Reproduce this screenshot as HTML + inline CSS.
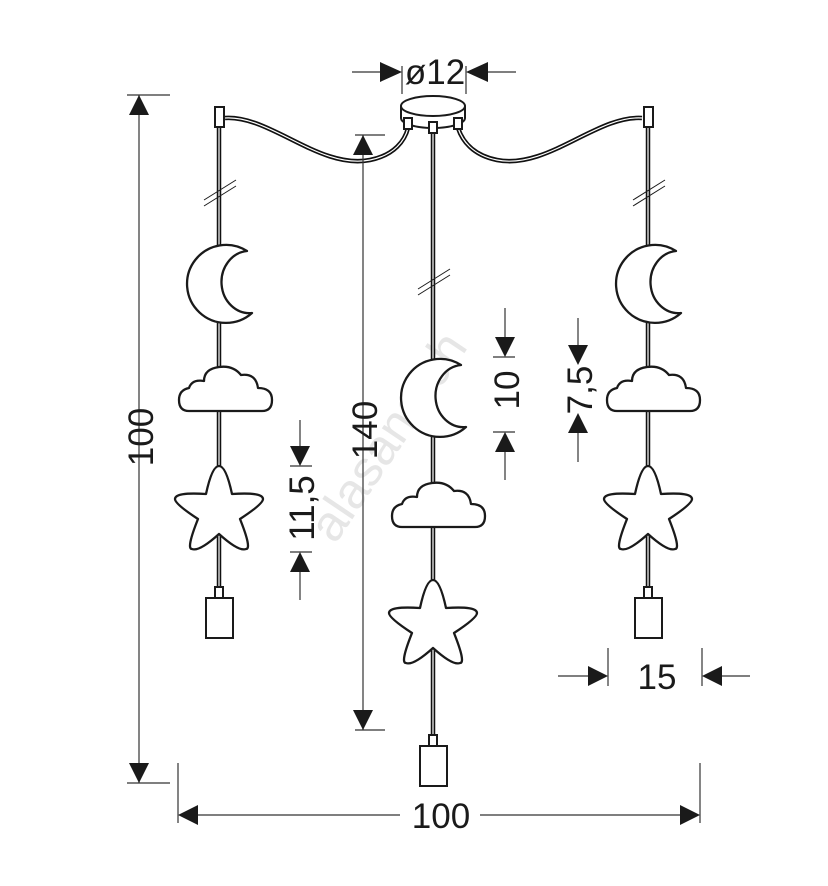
<!DOCTYPE html>
<html><head><style>body{margin:0;background:#fff}svg{display:block}text{font-family:"Liberation Sans",sans-serif;fill:#1a1a1a}</style></head>
<body>
<svg width="828" height="886" viewBox="0 0 828 886" xmlns="http://www.w3.org/2000/svg">
<defs>
<path id="moon" d="M26 -30 A39 39 0 1 0 31 32 A27 30 0 0 1 26 -30 Z"/>
<path id="cloud" d="M10 46 H83 Q93 46 93 35 Q93 23 79 23 Q77 8 62 10 Q54 0 40 2 Q25 4 25 16 Q13 14 10 23 Q0 25 0 35 Q0 46 10 46 Z"/>
<path id="star" d="M0 -46 Q7 -46 13 -18 Q44 -20 44 -13 Q44 -8 21 7 Q33 37 27 37 Q20 40 0 22 Q-20 40 -27 37 Q-33 37 -21 7 Q-44 -8 -44 -13 Q-44 -20 -13 -18 Q-7 -46 0 -46 Z"/>
<g id="lamp"><rect x="-4" y="0" width="8" height="11" fill="#fff" stroke="#1a1a1a" stroke-width="2"/><rect x="-13" y="11" width="27" height="40" fill="#fff" stroke="#1a1a1a" stroke-width="2"/></g>
</defs>
<text x="0" y="0" transform="translate(335,545) rotate(-56)" font-size="50" style="fill:#e6e6e6">alasans.ch</text>
<g fill="none" stroke="#111" stroke-width="4.5">
<path d="M225 118 C270 115 320 170 370 160 C395 155 405 140 408 128"/>
<path d="M642 118 C597 115 547 170 497 160 C472 155 462 140 458 128"/>
<line x1="219" y1="128" x2="219" y2="590"/>
<line x1="433" y1="130" x2="433" y2="738"/>
<line x1="648" y1="128" x2="648" y2="590"/>
</g>
<g fill="none" stroke="#fff" stroke-width="1.2">
<path d="M225 118 C270 115 320 170 370 160 C395 155 405 140 408 128"/>
<path d="M642 118 C597 115 547 170 497 160 C472 155 462 140 458 128"/>
<line x1="219" y1="128" x2="219" y2="590"/>
<line x1="433" y1="130" x2="433" y2="738"/>
<line x1="648" y1="128" x2="648" y2="590"/>
</g>
<g stroke="#1a1a1a" stroke-width="1">
<line x1="204" y1="206" x2="236" y2="186"/><line x1="204" y1="200" x2="236" y2="180"/>
<line x1="418" y1="295" x2="450" y2="275"/><line x1="418" y1="289" x2="450" y2="269"/>
<line x1="633" y1="206" x2="665" y2="186"/><line x1="633" y1="200" x2="665" y2="180"/>
</g>
<g fill="#fff" stroke="#1a1a1a" stroke-width="2">
<rect x="215" y="107" width="9" height="20"/><rect x="644" y="107" width="9" height="20"/>
<path d="M401 106 A32 10 0 0 1 465 106 V118 A32 10 0 0 1 401 118 Z"/>
<path d="M401 106 A32 10 0 0 0 465 106"/>
<rect x="404" y="118" width="8" height="11"/><rect x="429" y="122" width="8" height="11"/><rect x="454" y="118" width="8" height="11"/>
</g>
<g fill="#fff" stroke="#1a1a1a" stroke-width="2.3" stroke-linejoin="round">
<use href="#moon" x="221" y="281"/><use href="#cloud" x="179" y="365"/><use href="#star" x="219" y="512"/>
<use href="#moon" x="435" y="395"/><use href="#cloud" x="392" y="481"/><use href="#star" x="433" y="626"/>
<use href="#moon" x="650" y="281"/><use href="#cloud" x="607" y="365"/><use href="#star" x="648" y="512"/>
</g>
<use href="#lamp" x="219" y="587"/><use href="#lamp" x="433" y="735"/><use href="#lamp" x="648" y="587"/>
<g stroke="#333" stroke-width="1.2" fill="none">
<line x1="402" y1="66" x2="402" y2="94"/><line x1="466" y1="66" x2="466" y2="94"/>
<line x1="352" y1="72" x2="382" y2="72"/><line x1="486" y1="72" x2="516" y2="72"/>
<line x1="139" y1="95" x2="139" y2="783"/><line x1="127" y1="95" x2="170" y2="95"/><line x1="127" y1="783" x2="170" y2="783"/>
<line x1="363" y1="135" x2="363" y2="730"/><line x1="355" y1="135" x2="385" y2="135"/><line x1="355" y1="730" x2="385" y2="730"/>
<line x1="505" y1="308" x2="505" y2="340"/><line x1="505" y1="450" x2="505" y2="480"/><line x1="493" y1="357" x2="515" y2="357"/><line x1="493" y1="432" x2="515" y2="432"/>
<line x1="578" y1="318" x2="578" y2="350"/><line x1="578" y1="430" x2="578" y2="462"/>
<line x1="300" y1="420" x2="300" y2="450"/><line x1="300" y1="570" x2="300" y2="600"/><line x1="290" y1="466" x2="312" y2="466"/><line x1="290" y1="552" x2="312" y2="552"/>
<line x1="558" y1="676" x2="590" y2="676"/><line x1="720" y1="676" x2="750" y2="676"/><line x1="608" y1="648" x2="608" y2="686"/><line x1="702" y1="648" x2="702" y2="686"/>
<line x1="178" y1="763" x2="178" y2="823"/><line x1="700" y1="763" x2="700" y2="823"/>
<line x1="198" y1="815" x2="400" y2="815"/><line x1="480" y1="815" x2="682" y2="815"/>
</g>
<g fill="#1a1a1a">
<polygon points="402,72 380,62 380,82"/><polygon points="466,72 488,62 488,82"/>
<polygon points="139,95 129,115 149,115"/><polygon points="139,783 129,763 149,763"/>
<polygon points="363,135 353,155 373,155"/><polygon points="363,730 353,710 373,710"/>
<polygon points="505,357 495,337 515,337"/><polygon points="505,432 495,452 515,452"/>
<polygon points="578,365 568,345 588,345"/><polygon points="578,413 568,433 588,433"/>
<polygon points="300,466 290,446 310,446"/><polygon points="300,552 290,572 310,572"/>
<polygon points="608,676 588,666 588,686"/><polygon points="702,676 722,666 722,686"/>
<polygon points="178,815 198,805 198,825"/><polygon points="700,815 680,805 680,825"/>
</g>
<g font-size="35">
<text x="435" y="84" text-anchor="middle">ø12</text>
<text x="441" y="828" text-anchor="middle">100</text>
<text x="657" y="689" text-anchor="middle">15</text>
<text transform="translate(153,437) rotate(-90)" text-anchor="middle">100</text>
<text transform="translate(377,430) rotate(-90)" text-anchor="middle">140</text>
<text transform="translate(519,390) rotate(-90)" text-anchor="middle">10</text>
<text transform="translate(592,390) rotate(-90)" text-anchor="middle">7,5</text>
<text transform="translate(314,508) rotate(-90)" text-anchor="middle">11,5</text>
</g>
</svg>
</body></html>
